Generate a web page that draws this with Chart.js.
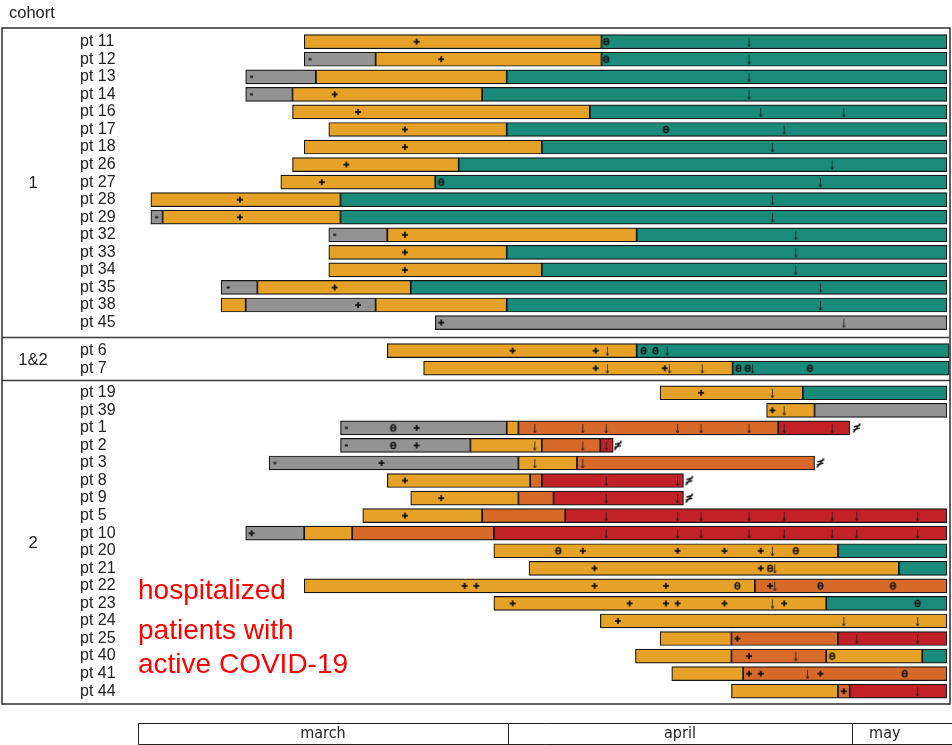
<!DOCTYPE html>
<html><head><meta charset="utf-8">
<script src="https://cdn.jsdelivr.net/npm/chart.js@4.4.1/dist/chart.umd.min.js"></script>
<style>html,body{margin:0;padding:0;background:#fff}#wrap{width:952px;height:745px}</style>
</head><body><div id="wrap"><canvas id="c" width="952" height="745"></canvas></div>
<script>
// ---- categories (rows) ----
const patients = ['pt 11','pt 12','pt 13','pt 14','pt 16','pt 17','pt 18','pt 26','pt 27','pt 28','pt 29','pt 32','pt 33','pt 34','pt 35','pt 38','pt 45',
  'pt 6','pt 7',
  'pt 19','pt 39','pt 1','pt 2','pt 3','pt 8','pt 9','pt 5','pt 10','pt 20','pt 21','pt 22','pt 23','pt 24','pt 25','pt 40','pt 41','pt 44'];
const rowPos = [0,1,2,3,4,5,6,7,8,9,10,11,12,13,14,15,16,
  17.6,18.6,
  20,21,22,23,24,25,26,27,28,29,30,31,32,33,34,35,36,37];
const cohortLabels = ['1','1&2','2'];
const cohortSpans = [[0,16],[17.6,18.6],[20,37]];
const groupBreaks = [16.8,19.3];

// ---- x axis (days since 1 March) month labels ----
const monthLabels = ['march','april','may'];
const monthStarts = [0,31.6,61];
const monthEnds = [31.6,61,66.6];

// ---- segments: [patient, start day, end day] ----
const greySeg = [
  ['pt 12',14.2,20.3],['pt 13',9.2,15.2],['pt 14',9.2,13.2],['pt 29',1.1,2.1],['pt 32',16.3,21.3],
  ['pt 35',7.1,10.2],['pt 38',9.2,20.3],['pt 45',25.4,69.1],['pt 39',57.8,69.1],['pt 1',17.3,31.5],
  ['pt 2',17.3,28.4],['pt 3',11.2,32.5],['pt 10',9.2,14.2]];
const orangeSeg = [
  ['pt 11',14.2,39.6],['pt 12',20.3,39.6],['pt 13',15.2,31.5],['pt 14',13.2,29.4],['pt 16',13.2,38.6],
  ['pt 17',16.3,31.5],['pt 18',14.2,34.5],['pt 26',13.2,27.4],['pt 27',12.2,25.4],['pt 28',1.1,17.3],
  ['pt 29',2.1,17.3],['pt 32',21.3,42.6],['pt 33',16.3,31.5],['pt 34',16.3,34.5],['pt 35',10.2,23.3],
  ['pt 38',7.1,9.2],['pt 38',20.3,31.5],['pt 6',21.3,42.6],['pt 7',24.4,50.8],['pt 19',44.6,56.8],
  ['pt 39',53.7,57.8],['pt 1',31.5,32.5],['pt 2',28.4,34.5],['pt 3',32.5,37.5],['pt 8',21.3,33.5],
  ['pt 9',23.3,32.5],['pt 5',19.2,29.4],['pt 10',14.2,18.3],['pt 20',30.4,59.8],['pt 21',33.4,65.0],
  ['pt 22',14.2,52.7],['pt 23',30.4,58.8],['pt 24',39.5,69.1],['pt 25',44.6,50.7],['pt 40',42.5,50.7],
  ['pt 40',58.8,67.0],['pt 41',45.6,51.7],['pt 44',50.7,59.8]];
const tealSeg = [
  ['pt 11',39.6,69.1],['pt 12',39.6,69.1],['pt 13',31.5,69.1],['pt 14',29.4,69.1],['pt 16',38.6,69.1],
  ['pt 17',31.5,69.1],['pt 18',34.5,69.1],['pt 26',27.4,69.1],['pt 27',25.4,69.1],['pt 28',17.3,69.1],
  ['pt 29',17.3,69.1],['pt 32',42.6,69.1],['pt 33',31.5,69.1],['pt 34',34.5,69.1],['pt 35',23.3,69.1],
  ['pt 38',31.5,69.1],['pt 6',42.6,69.3],['pt 7',50.8,69.3],['pt 19',56.8,69.1],['pt 20',59.8,69.1],
  ['pt 21',65.0,69.1],['pt 23',58.8,69.1],['pt 40',67.0,69.1]];
const darkOrangeSeg = [
  ['pt 1',32.5,54.7],['pt 2',34.5,39.5],['pt 3',37.5,57.8],['pt 8',33.5,34.5],['pt 9',32.5,35.5],
  ['pt 5',29.4,36.5],['pt 10',18.3,30.4],['pt 22',52.7,69.1],['pt 25',50.7,59.8],['pt 40',50.7,58.8],
  ['pt 41',51.7,69.1],['pt 44',59.8,60.8]];
const redSeg = [
  ['pt 1',54.7,60.8],['pt 2',39.5,40.6],['pt 8',34.5,46.6],['pt 9',35.5,46.6],['pt 5',36.5,69.1],
  ['pt 10',30.4,69.1],['pt 25',59.8,69.1],['pt 44',60.8,69.1]];

// ---- event markers: [patient, [days]] ----
const plusMarks = [
  ['pt 11',[23.8]],['pt 12',[25.9]],['pt 14',[16.8]],['pt 16',[18.8]],['pt 17',[22.8]],['pt 18',[22.8]],
  ['pt 26',[17.8]],['pt 27',[15.7]],['pt 28',[8.7]],['pt 29',[8.7]],['pt 32',[22.8]],['pt 33',[22.8]],
  ['pt 34',[22.8]],['pt 35',[16.8]],['pt 38',[18.8]],['pt 45',[25.9]],['pt 6',[32.0,39.1]],['pt 7',[39.1,45.0]],
  ['pt 19',[48.1]],['pt 39',[54.2]],['pt 1',[23.8]],['pt 2',[23.8]],['pt 3',[20.8]],['pt 8',[22.8]],
  ['pt 9',[25.9]],['pt 5',[22.8]],['pt 10',[9.7]],['pt 20',[38.0,46.1,50.1,53.2]],['pt 21',[39.0,53.2]],
  ['pt 22',[27.9,28.9,39.0,45.1,54.0]],['pt 23',[32.0,42.0,45.1,46.1,50.1,55.2]],['pt 24',[41.0]],
  ['pt 25',[51.2]],['pt 40',[52.2]],['pt 41',[52.2,53.2,58.3]],['pt 44',[60.3]]];
const starMarks = [
  ['pt 12',[14.7]],['pt 13',[9.7]],['pt 14',[9.7]],['pt 29',[1.6]],['pt 32',[16.8]],['pt 35',[7.7]],
  ['pt 1',[17.8]],['pt 2',[17.8]],['pt 3',[11.7]]];
const thetaMarks = [
  ['pt 11',[40.0]],['pt 12',[40.0]],['pt 17',[45.1]],['pt 27',[25.9]],['pt 6',[43.2,44.2]],
  ['pt 7',[51.3,52.1,57.4]],['pt 1',[21.8]],['pt 2',[21.8]],['pt 20',[35.9,56.2]],['pt 21',[54.0]],
  ['pt 22',[51.2,58.3,64.5]],['pt 23',[66.6]],['pt 40',[59.3]],['pt 41',[65.5]]];
const arrowMarks = [
  ['pt 11',[52.2]],['pt 12',[52.2]],['pt 13',[52.2]],['pt 14',[52.2]],['pt 16',[53.2,60.3]],['pt 17',[55.2]],
  ['pt 18',[54.2]],['pt 26',[59.3]],['pt 27',[58.3]],['pt 28',[54.2]],['pt 29',[54.2]],['pt 32',[56.2]],
  ['pt 33',[56.2]],['pt 34',[56.2]],['pt 35',[58.3]],['pt 38',[58.3]],['pt 45',[60.3]],
  ['pt 6',[40.1,45.2]],['pt 7',[40.1,45.4,48.2,52.5]],['pt 19',[54.2]],['pt 39',[55.2]],
  ['pt 1',[33.9,38.0,40.0,46.1,48.1,52.2,55.2,59.3]],['pt 2',[33.9,38.0,40.0]],['pt 3',[33.9,38.0]],
  ['pt 8',[40.0,46.1]],['pt 9',[40.0,46.1]],['pt 5',[40.0,46.1,48.1,52.2,55.2,59.3,61.4,66.6]],
  ['pt 10',[40.0,46.1,48.1,52.2,55.2,59.3,61.4,66.6]],['pt 20',[54.2]],['pt 21',[54.4]],['pt 22',[54.4]],
  ['pt 23',[54.2]],['pt 24',[60.3,66.6]],['pt 25',[61.4,66.6]],['pt 40',[56.2]],['pt 41',[57.2]],['pt 44',[66.6]]];
const deathMarks = [['pt 1',[61.4]],['pt 2',[41.0]],['pt 3',[58.3]],['pt 8',[47.1]],['pt 9',[47.1]]];

const annotationLines = ['hospitalized','patients with','active COVID-19'];
const annotationRows = [31.3,33.6,35.55];

// ---- build ----
const posOf = p => rowPos[patients.indexOf(p)];
const segData = arr => arr.map(([p,a,b]) => ({x:[a,b], y:posOf(p)}));
const markData = arr => arr.flatMap(([p,vals]) => vals.map(v => ({x:v, y:posOf(p)})));

function glyph(w,h,draw){const c=document.createElement('canvas');c.width=w;c.height=h;const g=c.getContext('2d');draw(g);return c;}
const plusImg = glyph(8,8,g=>{g.fillStyle='#111';g.fillRect(1,3.2,6,1.7);g.fillRect(3.2,1,1.7,6);});
const starImg = glyph(7,7,g=>{g.strokeStyle='#222';g.lineWidth=1;g.beginPath();
  for(let k=0;k<3;k++){const a=k*Math.PI/3;g.moveTo(3.5-1.6*Math.cos(a),3.5-1.6*Math.sin(a));g.lineTo(3.5+1.6*Math.cos(a),3.5+1.6*Math.sin(a));}g.stroke();});
const thetaImg = glyph(9,11,g=>{g.strokeStyle='#111';g.lineWidth=1.3;g.beginPath();g.ellipse(4.5,5.5,2.4,3.2,0,0,Math.PI*2);g.moveTo(2.2,5.5);g.lineTo(6.8,5.5);g.stroke();});
const arrowImg = glyph(7,12,g=>{g.strokeStyle='rgba(25,25,25,0.75)';g.lineWidth=1;g.beginPath();g.moveTo(3.5,2);g.lineTo(3.5,11);g.moveTo(2,8.5);g.lineTo(3.5,11);g.lineTo(5,8.5);g.stroke();});
const deathImg = glyph(12,12,g=>{g.strokeStyle='#111';g.lineWidth=1.3;g.beginPath();g.moveTo(2.5,10.5);g.lineTo(9.5,1.5);
  g.moveTo(3,5);g.lineTo(9.5,3.2);g.moveTo(2.5,8);g.lineTo(9,6.2);g.stroke();});

const barDs = (data,color) => ({type:'bar', data:segData(data), backgroundColor:color, borderColor:'#151515',
  borderWidth:1.2, borderSkipped:false, barThickness:14, grouped:false, order:2});
const markDs = (data,img) => ({type:'scatter', data:markData(data), pointStyle:img, pointRadius:5, order:1});

const deco = {
  id:'deco',
  afterDraw(chart){
    const {ctx, chartArea:a, scales:{x,y}} = chart;
    ctx.save();
    ctx.strokeStyle='#3a3a3a'; ctx.lineWidth=1.6;
    ctx.strokeRect(2, a.top, a.right-2, a.bottom-a.top);
    groupBreaks.forEach(v=>{const py=Math.round(y.getPixelForValue(v))+0.5;ctx.beginPath();ctx.moveTo(2,py);ctx.lineTo(a.right,py);ctx.stroke();});
    ctx.fillStyle='#222'; ctx.font='16.5px "Liberation Sans", Arial, sans-serif'; ctx.textBaseline='middle';
    ctx.textAlign='left'; ctx.fillText('cohort',9,13);
    ctx.textAlign='center';
    cohortLabels.forEach((l,i)=>ctx.fillText(l,33,y.getPixelForValue((cohortSpans[i][0]+cohortSpans[i][1])/2)+1.5));
    // annotation
    ctx.fillStyle='#ff0000'; ctx.font='28px "Liberation Sans", Arial, sans-serif'; ctx.textAlign='left';
    annotationLines.forEach((t,i)=>ctx.fillText(t,a.left,y.getPixelForValue(annotationRows[i])));
    // month band
    const bt=723.5, bb=744.5;
    ctx.strokeStyle='#222'; ctx.lineWidth=1;
    const x0=Math.round(x.getPixelForValue(monthStarts[0]))+0.5;
    ctx.beginPath(); ctx.moveTo(x0,bt); ctx.lineTo(chart.width,bt); ctx.moveTo(x0,bb); ctx.lineTo(chart.width,bb);
    monthStarts.forEach(m=>{const px=Math.round(x.getPixelForValue(m))+0.5;ctx.moveTo(px,bt);ctx.lineTo(px,bb);});
    ctx.stroke();
    ctx.fillStyle='#222'; ctx.font='16px "Liberation Sans Narrow", "DejaVu Sans Condensed", Arial, sans-serif'; ctx.textAlign='center';
    monthLabels.forEach((l,i)=>ctx.fillText(l,x.getPixelForValue((monthStarts[i]+monthEnds[i])/2),734));
    ctx.restore();
  }
};

new Chart(document.getElementById('c'), {
  type:'bar',
  data:{datasets:[
    barDs(greySeg,'#939393'), barDs(orangeSeg,'#E5A128'), barDs(tealSeg,'#1A8A7B'),
    barDs(darkOrangeSeg,'#D76A2A'), barDs(redSeg,'#C22127'),
    markDs(plusMarks,plusImg), markDs(starMarks,starImg), markDs(thetaMarks,thetaImg),
    markDs(arrowMarks,arrowImg), markDs(deathMarks,deathImg)
  ]},
  options:{
    indexAxis:'y', responsive:false, animation:false, events:[],
    layout:{autoPadding:false, padding:{left:80,right:2,top:28,bottom:41}},
    plugins:{legend:{display:false}, tooltip:{enabled:false}},
    scales:{
      x:{type:'linear', display:false, offset:false, min:0, max:69.37},
      y:{type:'linear', reverse:true, offset:false, min:-0.78, max:37.73,
         grid:{display:false}, border:{display:false},
         afterFit(s){s.width=58;},
         afterBuildTicks(s){s.ticks=rowPos.map(v=>({value:v}));},
         ticks:{autoSkip:false, padding:0, crossAlign:'far', color:'#222',
           font:{size:16, family:'"Liberation Sans", Arial, sans-serif'},
           callback:(v)=>patients[rowPos.indexOf(v)]}}
    }
  },
  plugins:[deco]
});
</script></body></html>
